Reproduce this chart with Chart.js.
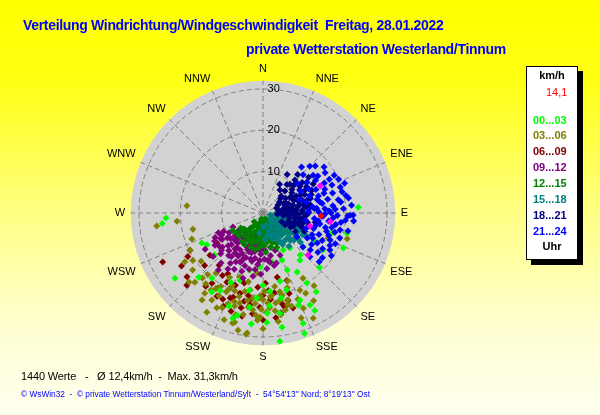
<!DOCTYPE html>
<html>
<head>
<meta charset="utf-8">
<script src="https://cdn.jsdelivr.net/npm/chart.js@4/dist/chart.umd.min.js"></script>
<style>
  html, body { margin: 0; padding: 0; }
  body {
    width: 600px; height: 415px; overflow: hidden; position: relative;
    background: linear-gradient(to bottom, #ffff00 0%, #ffff10 18%, #ffff80 50%, #ffffd0 78%, #fffff0 100%);
    font-family: "Liberation Sans", Arial, sans-serif;
  }
  #wrap { position: absolute; left: 0; top: 0; width: 600px; height: 415px; }
  .t { position: absolute; white-space: pre; }
  .title { font-weight: bold; font-size: 14px; line-height: 14px; color: #0000ff; letter-spacing: -0.32px; }
  .leg { font-size: 11px; line-height: 11px; font-weight: bold; }
  #box { position: absolute; left: 526px; top: 66px; width: 50px; height: 192px;
         background: #fff; border: 1px solid #000; box-shadow: 5px 5px 0 #000; }
</style>
</head>
<body>
<div id="wrap"><canvas id="rose" width="600" height="415"></canvas></div>

<div class="t title" style="left:23px; top:18px;">Verteilung Windrichtung/Windgeschwindigkeit  Freitag, 28.01.2022</div>
<div class="t title" style="left:246px; top:42px;">private Wetterstation Westerland/Tinnum</div>

<div id="box"></div>
<div id="legend"></div>

<div class="t" style="left:21px; top:371px; font-size:11px; line-height:11px; color:#000; letter-spacing:-0.15px;">1440 Werte   -   Ø 12,4km/h  -  Max. 31,3km/h</div>
<div class="t" style="left:21px; top:390px; font-size:8.3px; line-height:8.3px; color:#0000ff;">© WsWin32  -  © private Wetterstation Tinnum/Westerland/Sylt  -  54°54'13'' Nord; 8°19'13'' Ost</div>

<script>
// compass names, one every 22.5 degrees
const dirNames = ['N','NNE','NE','ENE','E','ESE','SE','SSE','S','SSW','SW','WSW','W','WNW','NW','NNW'];
const speedTicks = [0, 10, 20, 30];
const speedMax = 32;

// legend
const periods = ['00...03','03...06','06...09','09...12','12...15','15...18','18...21','21...24'];
const periodColors = ['#00ff00','#808000','#800000','#800080','#008000','#008080','#000080','#0000ff'];
const currentSpeed = '14,1';

// [direction in degrees, speed in km/h]
const p0003 = [[267,23.5],[264,24.5],[243.8,16.5],[240.3,15.6],[228.8,15.5],[233.5,26.5],[209.2,21.4],[199,17.2],
  [192.8,14.2],[183.2,13.1],[169.6,12.1],[158,12.3],[157.2,15],[150,16.5],[141.8,14.5],[130.4,12.7],[196,26.5],
  [193.8,25.5],[187.9,23],[184,20.7],[170.5,28],[172.5,31.3],[157,22.9],[160,28.4],[161,30.8],[212.8,22.8],
  [152.9,25],[151.8,26.7],[170.4,24.6],[177.7,24.3],[159.2,23.9],[86.4,23.1],[106.2,17.4],[103.4,20.9],
  [113.6,21.2],[138.6,13.6],[142.4,10.7],[151.6,10.2],[175,19],[168,21],[180,17.5],[163,19.5],[190,19],
  [205,18.5],[218,20],[200,24],[176,22.5],[166,17],[148,20],[122,17],[118,14],[134,19],[146,23],[186,27],
  [178,26.5],[225,22]];
const p0306 = [[275.3,18.5],[263,25.9],[264.7,20.9],[257.1,17.4],[249.9,18.3],[243,19.8],[237.9,22.3],[230.8,21.9],
  [224.6,23.5],[215,25.7],[209.5,27.6],[210.4,24.4],[203.6,24.9],[194.4,27.3],[187.6,29.3],[181.7,25.2],
  [194.3,22.5],[189.6,18.9],[175.2,20.4],[169,21.5],[164.6,21.9],[148.4,18.5],[154.3,20.7],[185.7,14.6],
  [199.8,16.5],[207.3,17.5],[195.3,27.6],[192,29],[188,29.6],[185.9,23.6],[167.2,24.1],[154.5,28.2],[111,16.9],
  [107.2,21.3],[205,21],[200,20],[197,23.5],[210,20.5],[214,22.5],[190,21.5],[185,22],[180,21],[176,23],[172,22],
  [168,19.5],[163,23.5],[158,22.5],[170,25],[178,24],[183,26],[195,25.5],[203,19],[218,18.5],[222,20],[192,17],
  [160,17.5],[150,24.5],[145,21.5],[200,27.5],[162,19],[165,23],[167,20.5],[171,18],[173,23.8],[174,20],
  [177,21.8],[179,19],[181,23.3],[182,20],[184,24.8],[187,20.8],[189,23],[191,25],[193,19.5],[196,21],
  [198,22.5],[201,23.5],[204,20],[206,25.5],[208,22.7],[212,21.5],[216,24],[219,22],[223,21.5],[227,24.5],
  [232,19],[236,20.5],[172,26.5],[180,28],[157,25],[152,22],[160,27]];
const p0609 = [[236.8,23.5],[226.5,25.4],[243.1,19.8],[231.6,16.4],[236.9,13.3],[199.7,21.6],[196,20.2],[188.5,21.3],
  [180,19.9],[167.7,15.9],[160.3,17.3],[162.5,24.1],[180,25.9],[188,22.5],[207.6,18.9],[216,21],[211,21.2],
  [201,18.7],[191.5,25.5],[181.8,22.8],[166.8,23.4],[175,21],[184,18],[193,23.5],[205,23],[198,25],[172,19.5],
  [170,24.5],[186,24.5],[220,16.5],[213,18],[195,17.5],[178,17],[162,20.5],[240,21],[228,19],[201,22],[190,20.3],
  [244,27],[164,22],[173,25.5],[183,20.5],[192,21.8],[203,24.5],[209,23],[218,22.5],[230,24],[176,18.8],
  [210,17],[168,22.5]];
const p0912 = [[177,9],[202,8.4],[226,9.4],[242,11.3],[205,13.1],[172,12],[190,11.1],[223,6.4],[191,6.2],
  [180,7.5],[183,10],[186,12.5],[188,8],[192,9.5],[195,11.5],[197,7],[199,13.5],[200,10],[203,11.8],[206,9],
  [208,7.2],[210,12],[212,10.5],[214,8.2],[216,13],[218,11],[220,9.5],[222,12.3],[225,10.8],[228,8],[230,12.8],
  [232,10],[234,7.5],[237,11.8],[240,9.5],[245,10.5],[236,14],[226,14.2],[213,14.5],[194,14],
  [176,13.5],[170,10.5],[168,13],[182,14.8],[187,6.5],[198,5.5],[209,5.8],[215,6.8],[230,6],[184,11.5],
  [207,15.3],[220,15.8],[189,15.5],[240,13.5],[245,8],[196,8.5],[204,12.8],[217,10.5],[211,8.8],
  [201,6.8],[227,11.5],[233,13.3],[178,11.2],[238,16.5],[229,16],[197,16.5],[218,17.5],
  [158,11],[162,9.5],[165,12.5],[185,9],[188,13.8],[191,7.5],[193,12],[196,10],[199,8],[201,11.5],[203,9.5],
  [207,11],[209,13.5],[211,7],[215,11.8],[219,13.2],[221,7.8],[224,9],[228,13.5],[231,9],[235,10.5],[239,12],
  [243,13],[246,11.8],[181,8.5],[174,11.5],[168,8.5],[200,15],[212,16]];
const p1215 = [[170,2.9],[145,5],[203,5],[219,6.9],[165,6.8],[185,7.8],[150,3],[155,6],[160,4],[162,7.5],[168,5],
  [172,3.8],[175,6],[178,8],[180,4.5],[183,2],[186,5.5],[190,3.5],[193,7],[196,4.8],[200,6.5],[205,3.5],
  [208,7.5],[212,5.5],[215,4],[222,5.8],[226,8],[230,7],[140,7],[135,6],[148,8.5],[158,9],[176,9.5],[192,9],
  [210,8.8],[165,1.5],[195,1.5],[225,3],[138,3.5],[150,1.8],[130,4.5],[173,7.2],[188,6.5],[200,8.8],[214,7.2],
  [236,6.5],[240,8.5],[198,2.5],[118,6],[122,7.5],[128,8],[112,5],[142,5.5],[147,4],[152,6.5],[156,8],
  [159,5.5],[163,3],[167,8.5],[170,6],[174,4.5],[177,5.5],[181,7],[184,4],[187,8.5],[191,6],[194,4],[198,7.5],
  [203,7.5],[207,5.5],[211,6.8],[216,8.5],[220,4.8],[228,6],[233,8],[125,5.5],[132,7],[120,4]];
const p1518 = [[106,1.8],[107.6,5.6],[116,9.4],[135,9.3],[151,6.1],[108,9.4],[126.6,10.6],[95,3],[98,6],[100,8],
  [102,4.5],[104,7],[110,3.5],[112,6.5],[114,8.5],[118,5],[120,7.5],[122,3],[124,9],[127,6],[130,8],[132,4],
  [134,6.8],[138,8.5],[140,5],[143,7],[145,3.5],[148,9],[155,4.5],[160,6.5],[165,3],[170,5.5],[115,10.5],
  [103,10],[128,11.5],[92,5.5],[88,4],[96,9],[112,2],[136,2.5],[150,8],[119,11],[131,10],[106,7.8],[125,4.8],
  [142,10.2],[180,3.5],[175,6.5],[190,5],[96,4.8],[99,7.5],[101,9.5],[105,5.5],[109,8.5],[111,10],[113,4],
  [117,6.8],[121,9.5],[123,5.5],[126,8],[129,6.5],[133,8.8],[137,5.5],[141,8.5],[146,6],[153,7],[157,5.5],
  [162,4.5],[118,12],[106,11.5]];
const p1821 = [[36.5,6.9],[44,11.1],[61.3,11.6],[80,11.6],[100.7,9.1],[118.6,6.1],[62,4.1],[40,9],[45,7.5],[48,10],
  [50,5.5],[52,12],[55,8.5],[57,6.5],[58,10.5],[60,7.5],[63,9],[65,5.5],[66,11],[68,8],[70,6.5],[72,10],[73,12],
  [75,7.5],[77,9],[78,5],[80,8.5],[82,10.5],[84,6.5],[86,9.5],[88,7.5],[90,11],[92,8.5],[94,6],[96,10],[98,7.8],
  [102,11],[105,8],[108,6.5],[110,10],[113,8],[115,5],[120,9],[90,4.5],[70,3.5],[55,12.8],[65,13],[85,12.5],
  [100,12.8],[42,12.5],[30,8],[32,11],[95,3.5],[82,3.8],[43,9.5],[47,6],[51,9],[54,11],[56,4.8],[59,12.3],
  [61,8],[64,10],[67,6],[69,12.5],[71,9],[74,11],[76,6],[79,10],[81,7],[83,11.5],[85,8],[87,5.5],[89,9.5],
  [91,7],[93,10.5],[97,5],[99,9],[101,6.5],[104,10],[107,9],[111,7],[114,11],[117,7.5],[52,14],[60,14]];
const p2124 = [[46.5,13.4],[52.8,15.2],[57.2,17.9],[61.8,19.5],[71.3,19.7],[75.1,19.8],[91.3,21.1],[91.3,21.8],
  [102.5,19.1],[118.9,18.5],[125.3,16.3],[119.6,12.3],[130.4,12.7],[70.6,9.5],[50,11],[55,13],[58,15],[62,12.5],
  [64,16.5],[66,14],[68,18],[70,12],[72,15.5],[74,17.5],[76,13.5],[78,16],[80,18.5],[81,14.5],[83,12],[84,17],
  [86,15],[87,19.5],[89,13.5],[90,16.5],[92,18],[93,14.5],[95,20],[96,12.5],[97,16],[99,17.8],[101,14],
  [103,15.5],[105,18],[107,12.8],[109,16.8],[111,14.5],[113,19],[115,15.8],[117,13.5],[121,16.8],[123,14],
  [127,18],[95,22],[85,21.5],[78,20.5],[66,20],[40,14.5],[48,17],[60,10.5],[100,10.5],[110,11],[125,10],[88,11],
  [76,10.8],[133,15.5],[79,14],[82,19],[85,13],[88,16],[91,15],[94,17],[98,13.5],[102,17],[104,13],[106,16],
  [108,19.5],[112,17.5],[114,13],[116,18],[119,15],[122,19.5],[73,14],[69,16],[63,18],[56,16],[53,18.5],[45,16],
  [128,14.5],[131,18],[97,19],[87,17.5],[80,21],[70,21],[102,21],[92,20.5]];
const pGust = [[64.7,15.3],[105.5,11.8],[97.7,16.4],[133,14.9]];
const pNow = [[93,14.1]];

// half-degree steps so every compass point falls on a label
const STEPS = 720;
const labels = [];
for (let i = 0; i < STEPS; i++) labels.push(i % 45 === 0 ? dirNames[i / 45] : '');

// radar can hold one value per angle, so split each group into layers
function toLayers(points) {
  const out = [];
  points.forEach(([d, s]) => {
    const i = Math.round(d * 2) % STEPS;
    let layer = out.find(l => l[i] === null);
    if (!layer) { layer = new Array(STEPS).fill(null); out.push(layer); }
    layer[i] = s;
  });
  return out;
}

// first dataset is drawn on top
const groups = [
  [pNow, '#ff0000'], [pGust, '#ff00ff'],
  [p2124, periodColors[7]], [p1821, periodColors[6]], [p1518, periodColors[5]], [p1215, periodColors[4]],
  [p0912, periodColors[3]], [p0003, periodColors[0]], [p0306, periodColors[1]], [p0609, periodColors[2]]
];
const datasets = [];
groups.forEach(([pts, col]) => {
  toLayers(pts).forEach(layer => {
    datasets.push({
      data: layer, showLine: false, fill: false, borderWidth: 0,
      pointStyle: 'rectRot', pointRadius: 3.5, pointBorderWidth: 0,
      pointBackgroundColor: col, pointBorderColor: col
    });
  });
});

// legend box text
const legend = document.getElementById('legend');
function legLine(text, top, left, color, bold, center) {
  const d = document.createElement('div');
  d.className = 't leg';
  d.textContent = text;
  d.style.top = top + 'px';
  d.style.color = color;
  if (!bold) d.style.fontWeight = 'normal';
  if (center) { d.style.left = '526px'; d.style.width = '52px'; d.style.textAlign = 'center'; }
  else d.style.left = left + 'px';
  legend.appendChild(d);
}
legLine('km/h', 70, 0, '#000', true, true);
legLine(currentSpeed, 87, 546, '#ff0000', false, false);
periods.forEach((p, i) => legLine(p, 114.6 + i * 15.85, 533, periodColors[i], true, false));
legLine('Uhr', 241, 0, '#000', true, true);

const canvas = document.getElementById('rose');
new Chart(canvas, {
  type: 'radar',
  data: { labels: labels, datasets: datasets },
  options: {
    responsive: false,
    animation: false,
    events: [],
    layout: { padding: { left: 0, right: 74, top: 62, bottom: 51 } },
    plugins: { legend: { display: false }, tooltip: { enabled: false } },
    scales: {
      r: {
        min: 0, max: speedMax, startAngle: 0,
        backgroundColor: '#d2d2d2',
        afterBuildTicks: (scale) => { scale.ticks = speedTicks.map(v => ({ value: v })); },
        grid: { circular: true, color: '#808080', lineWidth: 1 },
        border: { dash: [5, 3] },
        angleLines: {
          color: '#808080', borderDash: [5, 3],
          lineWidth: (ctx) => (ctx.index % 45 === 0 ? 1 : 0)
        },
        pointLabels: { color: '#000', padding: -2, font: { family: 'Liberation Sans', size: 11 } },
        ticks: {
          color: '#000', showLabelBackdrop: false,
          font: { family: 'Liberation Sans', size: 11 },
          callback: (v) => '       ' + v
        }
      }
    }
  }
});
</script>
</body>
</html>
